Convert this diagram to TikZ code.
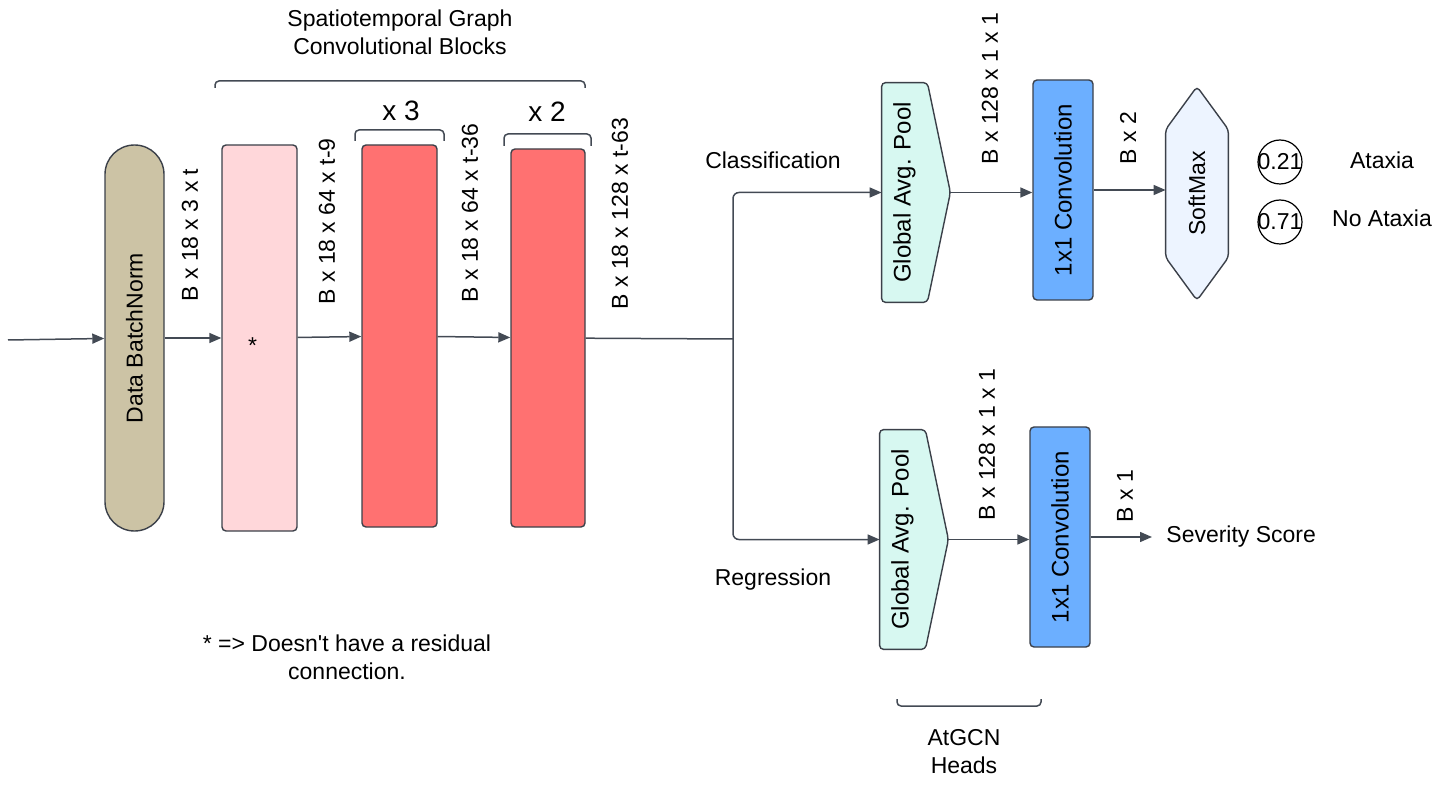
\documentclass[tikz,border=0pt]{standalone}
\usepackage{fontspec}
\setmainfont{Liberation Sans}
\usetikzlibrary{arrows.meta,positioning,calc,backgrounds}

\definecolor{edge}{HTML}{3B4049}
\definecolor{wire}{HTML}{434A54}
\definecolor{bnfill}{HTML}{CCC3A5}
\definecolor{firstfill}{HTML}{FFD7DA}
\definecolor{stfill}{HTML}{FF7171}
\definecolor{poolfill}{HTML}{D7F8F1}
\definecolor{convfill}{HTML}{6CAFFF}
\definecolor{softfill}{HTML}{EDF4FF}

\newcommand{\rottext}[1]{\rotatebox{90}{#1}}

\begin{document}
\begin{tikzpicture}
		[
			x=0.5pt, y=-0.5pt,
			font=\fontsize{11.5}{14}\selectfont,
			align=center,
			box/.style={draw=edge, line width=0.7pt, rounded corners=2pt, inner sep=0pt},
			bnbox/.style={box, fill=bnfill, minimum width=29.5pt, minimum height=193pt, rounded corners=14.7pt},
			stblock/.style={box, minimum width=37.5pt},
			convbox/.style={box, fill=convfill, minimum width=30pt, minimum height=110pt, font=\fontsize{12}{14}\selectfont},
			poolbody/.style={inner sep=0pt, minimum width=22.5pt, minimum height=109.5pt, font=\fontsize{12}{14}\selectfont},
			poolshape/.style={draw=edge, line width=0.7pt, fill=poolfill, rounded corners=2pt},
			probcirc/.style={circle, draw=black, line width=0.6pt, minimum size=22pt, inner sep=0pt},
			dim/.style={rotate=90, anchor=west, inner sep=0pt},
			arrow/.style={-{Triangle[length=6pt,width=5pt]}, line width=0.75pt, draw=wire},
			line/.style={line width=0.75pt, draw=wire},
			bracket/.style={line width=0.75pt, draw=wire, rounded corners=2pt}
		]
		\useasboundingbox (0,0) rectangle (1442,786);

		% blocks
		\coordinate (in) at (8,340);
		\node[bnbox]						(dbn)  at ( 134.5, 338 ) {\rottext{Data BatchNorm}};
		\node[stblock, fill=firstfill, minimum height=193pt]	(blk0) at ( 259.5, 338 ) {\smash{\raisebox{-8pt}{*}}\hspace{7pt}};
		\node[stblock, fill=stfill, minimum height=191pt]	(blk1) at ( 399.5, 336 ) {};
		\node[stblock, fill=stfill, minimum width=37pt, minimum height=189pt]	(blk2) at ( 548, 338 ) {};
		\coordinate (split) at (733,339);

		% heads
		\node[poolbody]	(gap1)  at (  904.5, 192.5 ) {\rottext{Global Avg. Pool}};
		\coordinate (gap1tip) at ($(gap1.east)+(23,0)$);
		\node[convbox]	(conv1) at ( 1063, 190 ) {\rottext{1x1 Convolution}};
		\node[inner sep=0pt, minimum width=31pt, minimum height=106.5pt]	(soft) at ( 1197, 193.5 ) {\rottext{SoftMax}};
		\node[probcirc]	(p1) at ( 1280, 162 ) {\makebox[0pt]{0.21}};
		\node[probcirc]	(p2) at ( 1280, 222 ) {\makebox[0pt]{0.71}};
		\node			(cls1) at ( 1382, 160 ) {Ataxia};
		\node			(cls2) at ( 1382, 218 ) {No Ataxia};

		\node[poolbody]	(gap2)  at (  902.5, 539.5 ) {\rottext{Global Avg. Pool}};
		\coordinate (gap2tip) at ($(gap2.east)+(23,0)$);
		\node[convbox]	(conv2) at ( 1060, 537 ) {\rottext{1x1 Convolution}};
		\node[anchor=west, inner sep=0pt]	(score) at ( 1166, 537 ) {Severity Score};

		\begin{scope}[on background layer]
			\draw[poolshape] (gap1.north west) -- (gap1.north east) -- (gap1tip) -- (gap1.south east) -- (gap1.south west) -- cycle;
			\draw[poolshape] (gap2.north west) -- (gap2.north east) -- (gap2tip) -- (gap2.south east) -- (gap2.south west) -- cycle;
			\draw[poolshape, fill=softfill] (soft.north) -- ($(soft.north east)+(0,43)$) -- ($(soft.south east)+(0,-43)$)
				-- (soft.south) -- ($(soft.south west)+(0,-43)$) -- ($(soft.north west)+(0,43)$) -- cycle;
		\end{scope}

		% labels
		\node (title) at ( 400, 32 ) {Spatiotemporal Graph\\Convolutional Blocks};
		\node[font=\fontsize{14}{17}\selectfont] (rep1) at ( 401, 111 ) {x 3};
		\node[font=\fontsize{14}{17}\selectfont] (rep2) at ( 547, 112 ) {x 2};
		\node (note)  at ( 347, 657 ) {* => Doesn\textquotesingle t have a residual\\connection.};
		\node (heads) at ( 964, 752 ) {AtGCN\\Heads};
		\node (clsl)  at ( 773, 160 ) {Classification};
		\node (regl)  at ( 773, 580 ) {Regression};

		\node[dim] (d0) at (  190, 302 ) {B x 18 x 3 x t};
		\node[dim] (d1) at (  327, 305 ) {B x 18 x 64 x t-9};
		\node[dim] (d2) at (  470, 303 ) {B x 18 x 64 x t-36};
		\node[dim] (d3) at (  620, 310 ) {B x 18 x 128 x t-63};
		\node[dim] (d4) at (  990, 165 ) {B x 128 x 1 x 1};
		\node[dim] (d5) at ( 1128, 165 ) {B x 2};
		\node[dim] (d6) at (  987, 521 ) {B x 128 x 1 x 1};
		\node[dim] (d7) at ( 1125, 523 ) {B x 1};

		% brackets
		\draw[bracket] (215,88) -- (215,81) -- (585,81) -- (585,88);
		\draw[bracket] (355,141) -- (355,130) -- (444,130) -- (444,141);
		\draw[bracket] (504,146) -- (504,134) -- (591,134) -- (591,146);
		\draw[bracket] (897,699) -- (897,706) -- (1041,706) -- (1041,699);

		% connectors
		\foreach \from/\to in {in/dbn, dbn/blk0, blk0/blk1, blk1/blk2}
		\draw[arrow] (\from) -- (\to);

		\draw[line] (blk2) -- (split);
		\draw[arrow, rounded corners=3pt] (split) |- (gap1.west);
		\draw[arrow, rounded corners=3pt] (split) |- (gap2.west);
		\draw[arrow] (gap1tip) -- (conv1.west |- gap1tip);
		\draw[arrow] (conv1.east) -- (soft.west |- conv1.east);
		\draw[arrow] (gap2tip) -- (conv2.west |- gap2tip);
		\draw[arrow] (conv2.east) -- ([xshift=-7pt]score.west);

	\end{tikzpicture}
\end{document}
